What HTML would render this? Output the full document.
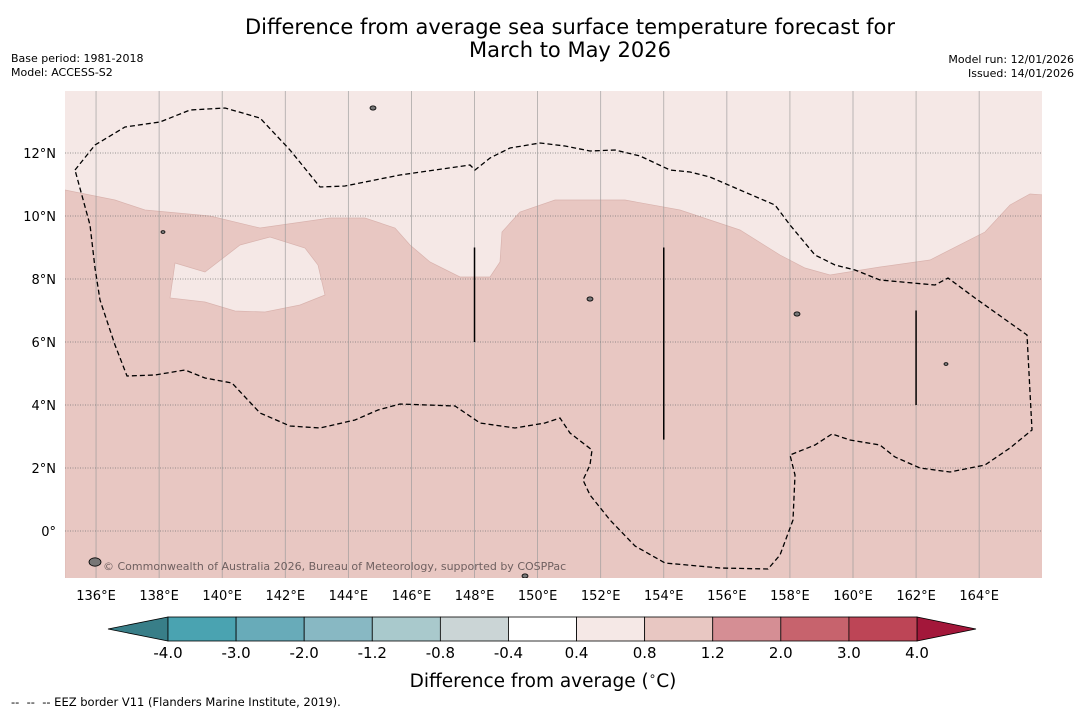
<!DOCTYPE html>
<html><head><meta charset="utf-8"><style>
body{margin:0;background:#fff;font-family:"DejaVu Sans","Liberation Sans",sans-serif}
svg{display:block}
</style></head><body>
<svg id="s" width="1085" height="713" xmlns="http://www.w3.org/2000/svg" font-family="DejaVu Sans, Liberation Sans, sans-serif">
<text x="570" y="34" font-size="21" text-anchor="middle">Difference from average sea surface temperature forecast for</text>
<text x="570" y="57" font-size="21" text-anchor="middle">March to May 2026</text>
<text x="11" y="62" font-size="11">Base period: 1981-2018</text>
<text x="11" y="76" font-size="11">Model: ACCESS-S2</text>
<text x="1074" y="63" font-size="11" text-anchor="end">Model run: 12/01/2026</text>
<text x="1074" y="77" font-size="11" text-anchor="end">Issued: 14/01/2026</text>
<g id="map"></g>
<g id="cb"></g>
<text x="543" y="687" font-size="18.5" text-anchor="middle">Difference from average (<tspan font-size="12" dy="-7">∘</tspan><tspan dy="7">C)</tspan></text>
<text x="11" y="706" font-size="11.5">-- &#160;-- &#160;-- EEZ border V11 (Flanders Marine Institute, 2019).</text>
</svg>
<script>
const NS="http://www.w3.org/2000/svg";
const lonTicks=[136,138,140,142,144,146,148,150,152,154,156,158,160,162,164];
const latTicks=[0,2,4,6,8,10,12];
const cbLevels=["-4.0","-3.0","-2.0","-1.2","-0.8","-0.4","0.4","0.8","1.2","2.0","3.0","4.0"];
const cbColors=["#4aa3b1","#68abb9","#88b8c3","#a9c9cc","#cbd5d6","#ffffff","#f5e8e6","#e8c7c2","#d58e94","#c7636d","#bd4556"];
const cbLow="#387e88", cbHigh="#a3173a";
const X0=64.5,Y0=531,PX=31.54,PY=31.5;
const xS=lon=>X0+(lon-135)*PX, yS=lat=>Y0-lat*PY;
function mk(t,a,p){const e=document.createElementNS(NS,t);for(const k in a)e.setAttribute(k,a[k]);(p||map).appendChild(e);return e;}
const map=document.getElementById('map'),cb=document.getElementById('cb');
const L=65,T=91,R=1042,B=578;
const cp=mk('clipPath',{id:'cp'});mk('rect',{x:L,y:T,width:R-L,height:B-T},cp);
const g=mk('g',{'clip-path':'url(#cp)'});
let bg=mk('rect',{x:L,y:T,width:R-L,height:B-T,fill:'#f5e8e6'},g);


const warm=[[65,190],[115,200],[145,210],[210,216],[260,228],[330,218],[365,218],[395,228],[410,245],[430,262],[460,277],[490,277],[500,262],[502,232],[520,212],[555,200],[625,200],[680,210],[740,230],[780,255],[805,268],[830,275],[880,267],[930,260],[985,232],[1010,205],[1030,194],[1045,195],[1045,580],[65,580]];
let w=mk('polygon',{points:warm.map(p=>p.join(',')).join(' '),fill:'#e8c7c2',stroke:'#d9b3ae','stroke-width':0.7},g);


const isl=[[175,263],[205,272],[240,245],[270,237],[305,248],[318,265],[325,295],[300,305],[265,312],[235,311],[205,302],[170,298]];
let il=mk('polygon',{points:isl.map(p=>p.join(',')).join(' '),fill:'#f5e8e6',stroke:'#d9b3ae','stroke-width':0.7},g);


lonTicks.forEach(l=>{const x=xS(l);
 let ln=mk('line',{x1:x,y1:T,x2:x,y2:B,stroke:'#999','stroke-width':0.8,opacity:0.8},g);
 
 
 let t=mk('text',{x:x,y:600,'font-size':13,'text-anchor':'middle'});t.textContent=l+'°E';
 
 });
latTicks.forEach(l=>{const y=yS(l);
 let ln=mk('line',{x1:L,y1:y,x2:R,y2:y,stroke:'#777','stroke-width':0.8,'stroke-dasharray':'1,1.5'},g);
 
 
 let t=mk('text',{x:56,y:y+5,'font-size':13,'text-anchor':'end'});t.textContent=l===0?'0°':l+'°N';
 
 });
const eez=[[75,170],[95,145],[125,127],[160,122],[190,110],[225,108],[260,118],[290,150],[320,187],[345,186],[400,175],[470,165],[475,170],[490,158],[510,148],[540,143],[565,146],[590,151],[615,150],[640,156],[670,170],[690,172],[710,177],[740,190],[775,205],[790,225],[815,255],[835,265],[855,270],[880,280],[935,285],[948,278],[975,298],[1027,335],[1032,430],[1010,448],[985,465],[950,472],[920,468],[895,457],[880,445],[850,440],[832,434],[815,445],[790,455],[795,475],[793,520],[780,555],[768,569],[720,568],[665,563],[635,546],[610,520],[590,495],[583,480],[590,465],[592,450],[570,433],[560,418],[545,423],[515,428],[480,423],[455,406],[400,404],[378,410],[355,420],[320,428],[290,426],[260,413],[232,383],[205,378],[185,370],[155,375],[127,376],[115,345],[100,300],[95,268],[90,225],[75,170]];
let ez=mk('polyline',{points:eez.map(p=>p.join(',')).join(' '),fill:'none',stroke:'#000','stroke-width':1.3,'stroke-dasharray':'5,3'},g);


[[148,9,6],[154,9,2.9],[162,7,4]].forEach(s=>{let ln=mk('line',{x1:xS(s[0]),y1:yS(s[1]),x2:xS(s[0]),y2:yS(s[2]),stroke:'#000','stroke-width':1.5},g);
 
 });
[[373,108,3],[163,232,2],[797,314,3],[946,364,2],[590,299,3],[95,562,6],[525,576,3]].forEach(p=>{let c=mk('ellipse',{cx:p[0],cy:p[1],rx:p[2],ry:p[2]*0.7,fill:'#777',stroke:'#000','stroke-width':0.8},g);
 
 });
let cr=mk('text',{x:103,y:570,'font-size':11,fill:'#6f6060'},g);cr.textContent='© Commonwealth of Australia 2026, Bureau of Meteorology, supported by COSPPac';


const cx0=168,cx1=917,cy=617,ch=24,sw=(cx1-cx0)/cbColors.length;
let lt=mk('polygon',{points:`108,${cy+ch/2} ${cx0},${cy} ${cx0},${cy+ch}`,fill:cbLow,stroke:'#000','stroke-width':0.8},cb);


let rt=mk('polygon',{points:`976,${cy+ch/2} ${cx1},${cy} ${cx1},${cy+ch}`,fill:cbHigh,stroke:'#000','stroke-width':0.8},cb);


cbColors.forEach((c,i)=>{let r=mk('rect',{x:cx0+i*sw,y:cy,width:sw,height:ch,fill:c,stroke:'#000','stroke-width':0.8},cb);
 
 });
cbLevels.forEach((v,i)=>{let t=mk('text',{x:cx0+i*sw,y:658,'font-size':15,'text-anchor':'middle'},cb);t.textContent=v;
 
 });
</script>
</body></html>
